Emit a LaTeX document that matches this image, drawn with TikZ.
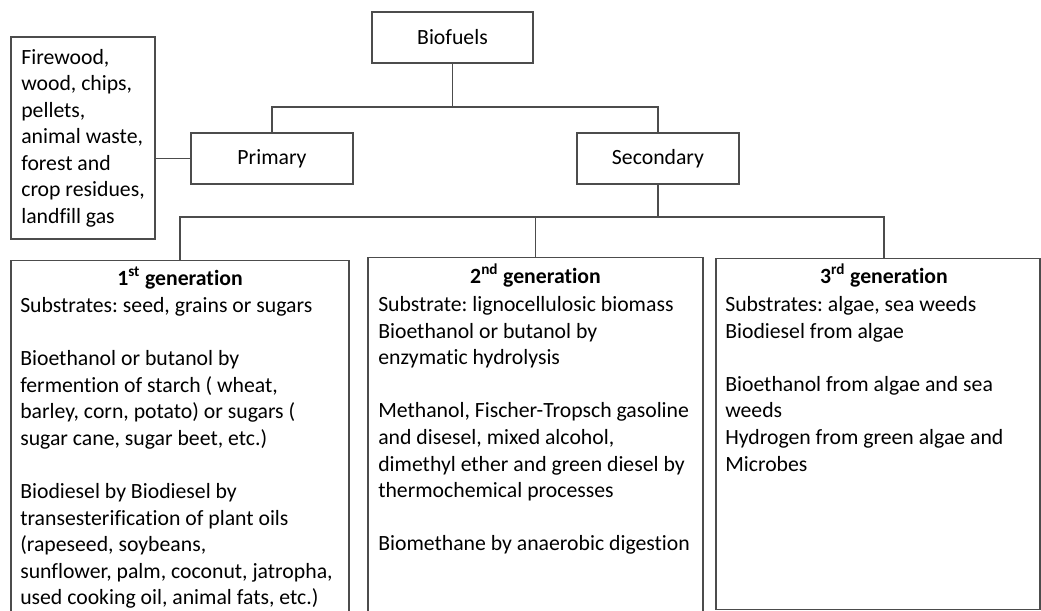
\documentclass[tikz,border=0pt]{standalone}
\usepackage{fontspec}
\setmainfont{Carlito}[Ligatures=NoCommon]
\newcommand\fsz{\fontsize{16.3}{19.9}\selectfont\frenchspacing}
\begin{document}
\begin{tikzpicture}[x=0.75pt,y=-0.75pt,
  conn/.style={draw=black!70, line width=1pt},
  box/.style={draw=black!70, line width=1pt, inner sep=0pt, font=\fsz, text=black},
  genbox/.style={draw=black!70, line width=1pt, inner sep=0pt, anchor=north},
  head/.style={anchor=base, inner sep=0pt, font=\fsz\bfseries},
  body/.style={anchor=north west, inner sep=0pt, align=left, font=\fsz}]
\clip (0,0) rectangle (1041,610);
% top level
\node[box, minimum width=120.75pt, minimum height=38.25pt] (bio) at (452.5,37.5) {Biofuels};
\node[box, minimum width=121.5pt, minimum height=38.25pt] (prim) at (272,158.5) {Primary};
\node[box, minimum width=121.5pt, minimum height=38.25pt] (sec) at (658,158.5) {Secondary};
\node[box, minimum width=108pt, minimum height=151.5pt, align=left] (raw) at (83,138)
  {Firewood,\\wood, chips,\\pellets,\\animal waste,\\forest and\\crop residues,\\landfill gas};
% generation boxes
\node[genbox, minimum width=253.5pt, minimum height=285pt] (g1) at (180,260) {};
\node[genbox, minimum width=251.25pt, minimum height=285pt] (g2) at (535.5,257) {};
\node[genbox, minimum width=243pt, minimum height=263.25pt] (g3) at (878,258) {};
\node[head] (h1) at (180,285) {1\textsuperscript{st} generation};
\node[head] (h2) at (535.5,283) {2\textsuperscript{nd} generation};
\node[head] (h3) at (884,283) {3\textsuperscript{rd} generation};
\node[body] (b1) at (20,294) {\strut Substrates: seed, grains or sugars\\[\baselineskip]
  Bioethanol or butanol by\\fermention of starch ( wheat,\\barley, corn, potato) or sugars (\\sugar cane, sugar beet, etc.)\\[\baselineskip]
  Biodiesel by Biodiesel by\\transesterification of plant oils\\(rapeseed, soybeans,\\sunflower, palm, coconut, jatropha,\\used cooking oil, animal fats, etc.)};
\node[body] (b2) at (378,293) {\strut Substrate: lignocellulosic biomass\\Bioethanol or butanol by\\enzymatic hydrolysis\\[\baselineskip]
  Methanol, Fischer-Tropsch gasoline\\and disesel, mixed alcohol,\\dimethyl ether and green diesel by\\thermochemical processes\\[\baselineskip]
  Biomethane by anaerobic digestion};
\node[body] (b3) at (725,293) {\strut Substrates: algae, sea weeds\\Biodiesel from algae\\[\baselineskip]
  Bioethanol from algae and sea\\weeds\\Hydrogen from green algae and\\Microbes};
% connectors
\coordinate (j1) at (452.5,107);
\coordinate (j2) at (658,217);
\coordinate (d3) at (884,258);
\draw[conn] (bio.south) -- (j1);
\draw[conn] (prim.north) |- (j1) -| (sec.north);
\draw[conn] (raw.east |- prim.west) -- (prim.west);
\draw[conn] (sec.south) -- (j2);
\draw[conn] (g1.north) |- (j2) -| (d3);
\draw[conn] (g2.north) -- (g2.north |- j2);
\end{tikzpicture}
\end{document}
